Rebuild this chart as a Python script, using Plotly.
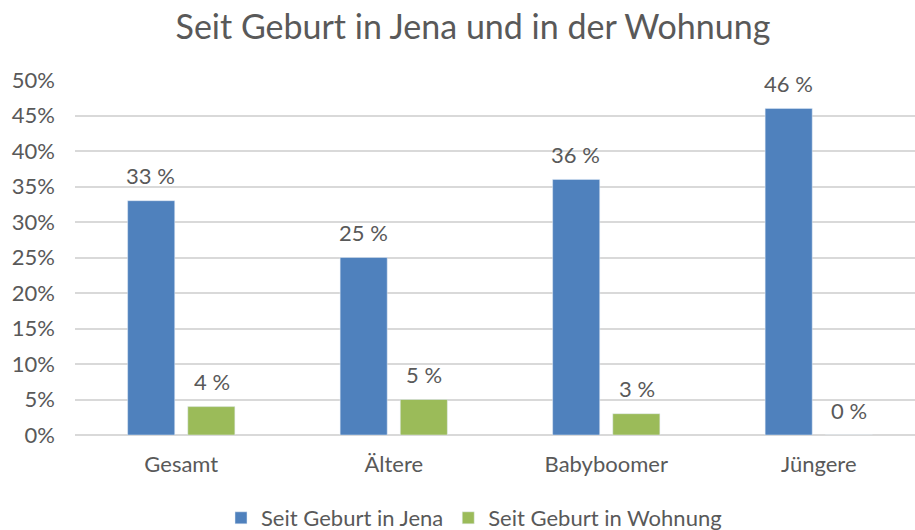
import plotly.graph_objects as go

categories = ["Gesamt", "Ältere", "Babyboomer", "Jüngere"]
jena = [33, 25, 36, 46]
wohnung = [4, 5, 3, 0]
series_names = ["Seit Geburt in Jena", "Seit Geburt in Wohnung"]
y_ticks = [0, 5, 10, 15, 20, 25, 30, 35, 40, 45, 50]
y_tick_labels = [f"{v}%" for v in y_ticks]

BLUE = "#4F81BD"
GREEN = "#9BBB59"
TXT = "#595959"
FONT = "Lato"

fig = go.Figure()
fig.add_trace(go.Bar(x=categories, y=jena, name=series_names[0], marker_color=BLUE))
fig.add_trace(go.Bar(x=categories, y=wohnung, name=series_names[1], marker_color=GREEN))

annotations = []
for vals, shift in ((jena, -30.4), (wohnung, 30.4)):
    for c, v in zip(categories, vals):
        annotations.append(dict(x=c, y=v, xref="x", yref="y", text=f"{v} %",
                                showarrow=False, xshift=shift, yshift=25,
                                yanchor="middle", font=dict(family=FONT, size=22, color=TXT)))

fig.update_layout(
    width=915, height=530,
    margin=dict(l=75, r=0, t=80, b=95),
    paper_bgcolor="white", plot_bgcolor="white",
    font=dict(family=FONT, color=TXT, size=22),
    title=dict(text="Seit Geburt in Jena und in der Wohnung", x=473/915, xanchor="center",
               xref="container", y=1-27/530, yanchor="middle", yref="container",
               font=dict(family=FONT, size=34, color=TXT)),
    barmode="group", bargap=0.434, bargroupgap=0.217,
    showlegend=True,
    legend=dict(orientation="h", x=474/915, xanchor="center", xref="container",
                y=1-518/530, yanchor="middle", yref="container",
                font=dict(family=FONT, size=22, color=TXT), itemwidth=30),
    annotations=annotations,
)
fig.update_xaxes(range=[-0.5, 3.5 - 10/212.5], showgrid=False, showline=False, ticks="",
                 ticklabelstandoff=14,
                 tickfont=dict(family=FONT, size=22, color=TXT))
fig.update_yaxes(range=[0, 50], tickvals=y_ticks, ticktext=y_tick_labels, showgrid=True,
                 gridcolor="#D9D9D9", gridwidth=1.5, zeroline=True, zerolinecolor="#D9D9D9",
                 zerolinewidth=1.5, showline=False, ticks="", ticklabelstandoff=19,
                 tickfont=dict(family=FONT, size=22, color=TXT))

fig.write_html("out.html")
